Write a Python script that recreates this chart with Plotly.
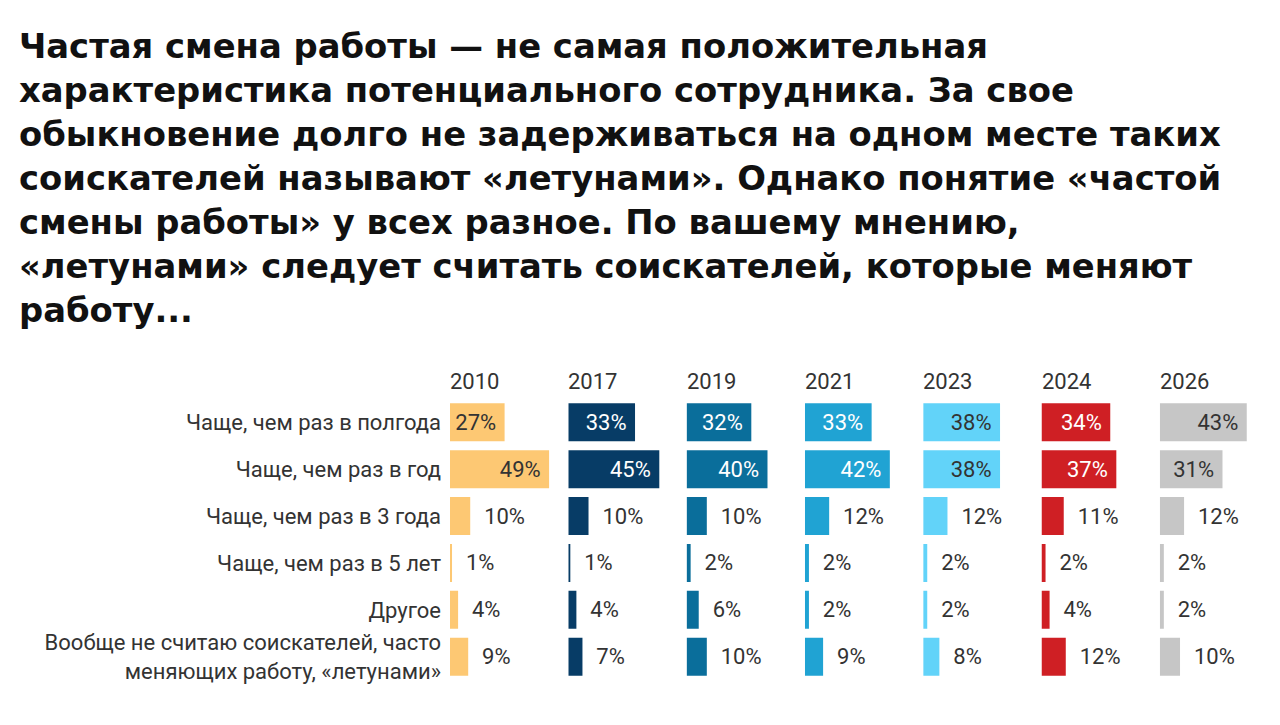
import plotly.graph_objects as go

categories = [
    "Чаще, чем раз в полгода",
    "Чаще, чем раз в год",
    "Чаще, чем раз в 3 года",
    "Чаще, чем раз в 5 лет",
    "Другое",
    "Вообще не считаю соискателей, часто<br>меняющих работу, «летунами»",
]
years = ["2010", "2017", "2019", "2021", "2023", "2024", "2026"]
v2010 = [27, 49, 10, 1, 4, 9]
v2017 = [33, 45, 10, 1, 4, 7]
v2019 = [32, 40, 10, 2, 6, 10]
v2021 = [33, 42, 12, 2, 2, 9]
v2023 = [38, 38, 12, 2, 2, 8]
v2024 = [34, 37, 11, 2, 4, 12]
v2026 = [43, 31, 12, 2, 2, 10]
series = [v2010, v2017, v2019, v2021, v2023, v2024, v2026]

title_lines = [
    "Частая смена работы — не самая положительная",
    "характеристика потенциального сотрудника. За свое",
    "обыкновение долго не задерживаться на одном месте таких",
    "соискателей называют «летунами». Однако понятие «частой",
    "смены работы» у всех разное. По вашему мнению,",
    "«летунами» следует считать соискателей, которые меняют",
    "работу...",
]

colors = ["#FDC873", "#073C66", "#0A6E9B", "#20A3D3", "#62D3F9", "#CF1F24", "#C6C6C6"]
inside_text_colors = ["#333333", "#FFFFFF", "#FFFFFF", "#FFFFFF", "#333333", "#FFFFFF", "#333333"]

W, H = 1280, 725
FONT = "Roboto"
x0_px = 450
panel_px = 118.3
xmax = 58.5
plot_top_px = 400.5
plot_bot_px = 683
LBL = 22

fig = go.Figure()
layout_axes = {}
annotations = []
for i, (yr, vals) in enumerate(zip(years, series)):
    ax = "x" if i == 0 else f"x{i+1}"
    axkey = "xaxis" if i == 0 else f"xaxis{i+1}"
    pos = ["inside" if v >= 20 else "outside" for v in vals]
    tmpl = ["%{x}%\u00a0" if p == "inside" else "\u00a0\u00a0%{x}%" for p in pos]
    fig.add_trace(go.Bar(
        x=vals, y=categories, orientation="h",
        xaxis=ax, yaxis="y",
        marker=dict(color=colors[i], line=dict(width=0)),
        texttemplate=tmpl, textposition=pos,
        insidetextanchor="end",
        insidetextfont=dict(color=inside_text_colors[i], size=LBL, family=FONT),
        outsidetextfont=dict(color="#333333", size=LBL, family=FONT),
        constraintext="none", cliponaxis=False,
        hoverinfo="skip", showlegend=False,
    ))
    d0 = (x0_px + i * panel_px) / W
    d1 = (x0_px + (i + 1) * panel_px) / W
    layout_axes[axkey] = dict(
        domain=[d0, min(d1, 1.0)], range=[0, xmax], anchor="y",
        showgrid=False, zeroline=False, showticklabels=False, ticks="",
        showline=False, fixedrange=True,
    )
    annotations.append(dict(
        text=yr, xref="paper", yref="paper", x=d0, y=1 - 383 / H,
        xanchor="left", yanchor="middle", showarrow=False,
        font=dict(size=LBL, color="#333333", family=FONT), xshift=-2,
    ))

annotations.append(dict(
    text="<b>" + "<br>".join(title_lines) + "</b>",
    xref="paper", yref="paper", x=17 / W, y=1 - 25 / H,
    xanchor="left", yanchor="top", align="left", showarrow=False,
    font=dict(size=33.8, color="#111111", family="DejaVu Sans"),
))

fig.update_layout(
    width=W, height=H,
    margin=dict(l=0, r=0, t=0, b=0),
    paper_bgcolor="white", plot_bgcolor="white",
    font=dict(family=FONT, color="#333333"),
    bargap=0.19,
    yaxis=dict(
        domain=[1 - plot_bot_px / H, 1 - plot_top_px / H],
        autorange="reversed", anchor="x",
        showgrid=False, zeroline=False, showline=False, ticks="",
        ticklabelstandoff=8,
        tickfont=dict(size=LBL, color="#333333", family=FONT),
        fixedrange=True,
    ),
    annotations=annotations,
    **layout_axes,
)

fig.write_html("out.html", config={"displayModeBar": False},
               post_script="document.body.style.margin='0';")
